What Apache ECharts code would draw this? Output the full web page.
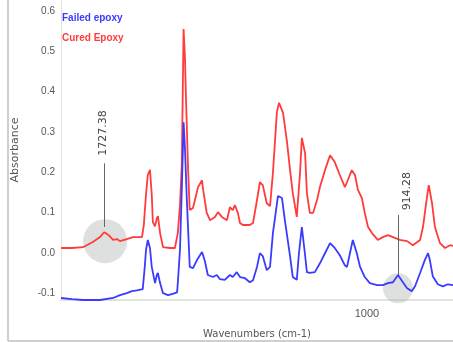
<!DOCTYPE html>
<html>
<head>
<meta charset="utf-8">
<style>
  html, body { margin: 0; padding: 0; background: #fff; }
  #chart { width: 453px; height: 342px; }
</style>
<script src="https://cdn.jsdelivr.net/npm/echarts@6/dist/echarts.min.js"></script>
</head>
<body>
<div id="chart"></div>
<script>
// FTIR spectra, wavenumbers in cm-1
const curedWn = [1846, 1816, 1785, 1758, 1738, 1727, 1719, 1711, 1702, 1691, 1683, 1664, 1647, 1622, 1617,
  1611, 1606, 1600, 1595, 1592, 1586, 1581, 1578, 1572, 1564, 1545, 1531, 1523, 1517, 1512, 1507, 1503,
  1501, 1495, 1490, 1481, 1467, 1456, 1454, 1443, 1434, 1420, 1412, 1401, 1387, 1379, 1371, 1365, 1357,
  1351, 1343, 1324, 1315, 1304, 1296, 1288, 1277, 1268, 1260, 1249, 1243, 1232, 1221, 1213, 1205, 1194,
  1185, 1180, 1171, 1166, 1158, 1149, 1138, 1130, 1116, 1102, 1089, 1075, 1061, 1053, 1042, 1033, 1025,
  1014, 1006, 997, 986, 970, 956, 942, 928, 909, 889, 873, 853, 845, 834, 829, 820, 812, 798, 784, 770, 762];
const curedAbs = [0.012, 0.012, 0.014, 0.027, 0.039, 0.051, 0.047, 0.041, 0.032, 0.034, 0.029, 0.034, 0.039,
  0.039, 0.069, 0.144, 0.193, 0.206, 0.144, 0.076, 0.066, 0.086, 0.091, 0.049, 0.014, 0.012, 0.012, 0.049,
  0.118, 0.218, 0.555, 0.478, 0.404, 0.218, 0.106, 0.111, 0.163, 0.180, 0.163, 0.099, 0.081, 0.089, 0.101,
  0.089, 0.081, 0.113, 0.106, 0.118, 0.099, 0.074, 0.069, 0.069, 0.074, 0.131, 0.175, 0.168, 0.123, 0.116,
  0.198, 0.349, 0.372, 0.347, 0.275, 0.208, 0.148, 0.089, 0.198, 0.285, 0.247, 0.148, 0.099, 0.099, 0.131,
  0.163, 0.205, 0.242, 0.225, 0.193, 0.163, 0.180, 0.205, 0.193, 0.156, 0.136, 0.099, 0.064, 0.049, 0.032,
  0.039, 0.044, 0.039, 0.032, 0.029, 0.019, 0.032, 0.064, 0.138, 0.168, 0.123, 0.064, 0.024, 0.012, 0.019, 0.017];

const failedWn = [1846, 1816, 1785, 1738, 1702, 1683, 1664, 1650, 1636, 1620, 1614, 1611, 1606, 1600, 1595,
  1586, 1581, 1578, 1572, 1564, 1550, 1537, 1525, 1523, 1517, 1512, 1507, 1503, 1498, 1490, 1481, 1470,
  1456, 1448, 1440, 1426, 1415, 1407, 1393, 1379, 1371, 1360, 1351, 1337, 1324, 1315, 1304, 1296, 1288,
  1277, 1268, 1260, 1246, 1235, 1227, 1213, 1205, 1194, 1188, 1180, 1171, 1166, 1158, 1144, 1130, 1116,
  1102, 1089, 1075, 1061, 1055, 1047, 1039, 1028, 1019, 1006, 992, 972, 956, 942, 928, 914, 903, 889, 876,
  867, 853, 840, 831, 826, 818, 804, 790, 776, 762];
const failedAbs = [-0.112, -0.115, -0.117, -0.117, -0.112, -0.105, -0.100, -0.095, -0.093, -0.090, -0.031,
  0.007, 0.032, 0.012, -0.035, -0.075, -0.055, -0.050, -0.075, -0.100, -0.105, -0.102, -0.098, -0.075, 0.007,
  0.156, 0.324, 0.255, 0.131, -0.035, -0.038, -0.018, 0.002, -0.021, -0.055, -0.060, -0.055, -0.065, -0.067,
  -0.055, -0.060, -0.048, -0.060, -0.063, -0.073, -0.068, -0.035, -0.001, -0.008, -0.043, -0.035, 0.049,
  0.141, 0.136, 0.081, -0.006, -0.060, -0.067, -0.001, 0.064, -0.006, -0.048, -0.050, -0.048, -0.026, -0.001,
  0.024, 0.012, -0.006, -0.031, -0.035, -0.001, 0.032, -0.001, -0.035, -0.060, -0.075, -0.080, -0.080, -0.075,
  -0.073, -0.055, -0.070, -0.088, -0.095, -0.083, -0.050, -0.018, -0.001, -0.018, -0.058, -0.078, -0.083,
  -0.078, -0.080];

const yTicks = [-0.1, 0, 0.1, 0.2, 0.3, 0.4, 0.5, 0.6];
const xTicks = [1000];
const peakLabels = ['1727.38', '914.28'];
const peakWn = [1727.38, 914.28];

const zip = (xs, ys) => xs.map((x, i) => [x, ys[i]]);
const textColor = '#555';
const font = "'Liberation Sans', Arial, sans-serif";
const wideFont = "'DejaVu Sans', sans-serif";

const chart = echarts.init(document.getElementById('chart'));

chart.setOption({
  animation: false,
  backgroundColor: '#fff',
  textStyle: { fontFamily: font },
  grid: { left: 61, right: 0, top: 0, bottom: 42, outerBoundsMode: 'none' },
  legend: {
    orient: 'vertical',
    left: 52,
    top: 8,
    icon: 'none',
    itemWidth: 0,
    itemHeight: 0,
    itemGap: 10,
    selectedMode: false,
    textStyle: { fontSize: 10, fontWeight: 'bold' },
    data: [
      { name: 'Failed epoxy', textStyle: { color: '#3b3bff' } },
      { name: 'Cured Epoxy', textStyle: { color: '#ff3b3b' } }
    ]
  },
  xAxis: {
    type: 'value',
    inverse: true,
    min: 762,
    max: 1846,
    name: 'Wavenumbers (cm-1)',
    nameLocation: 'middle',
    nameGap: 29,
    nameTextStyle: { color: textColor, fontSize: 10, fontFamily: wideFont },
    axisLine: { onZero: false, lineStyle: { color: '#dfe5d9', width: 2 } },
    axisTick: { show: false },
    splitLine: { show: false },
    axisLabel: {
      customValues: xTicks,
      formatter: v => String(v),
      color: textColor,
      fontSize: 11,
      margin: 8
    }
  },
  yAxis: {
    type: 'value',
    min: -0.117,
    max: 0.627,
    name: 'Absorbance',
    nameLocation: 'middle',
    nameGap: 40,
    nameTextStyle: { color: textColor, fontSize: 11, fontFamily: wideFont },
    axisLine: { show: true, onZero: false, lineStyle: { color: '#dde6d6', width: 1 } },
    axisTick: { show: false },
    splitLine: { show: false },
    axisLabel: {
      customValues: yTicks,
      formatter: v => v.toFixed(1),
      color: textColor,
      fontSize: 10,
      margin: 6
    }
  },
  series: [
    {
      name: 'peaks',
      type: 'scatter',
      z: 1,
      silent: true,
      symbol: 'circle',
      symbolSize: v => v[2],
      itemStyle: { color: 'rgba(160,168,166,0.45)' },
      data: [[1724, 0.029, 44], [914, -0.088, 30]],
      markLine: {
        silent: true,
        symbol: 'none',
        label: { show: false },
        lineStyle: { color: '#666', width: 1, type: 'solid' },
        data: [
          [{ coord: [peakWn[0], 0.064] }, { coord: [peakWn[0], 0.222] }],
          [{ coord: [peakWn[1], -0.055] }, { coord: [peakWn[1], 0.094] }]
        ]
      },
      markPoint: {
        silent: true,
        symbolSize: 0,
        label: {
          show: true,
          position: 'inside',
          rotate: 90,
          color: '#444',
          fontSize: 11,
          fontFamily: wideFont
        },
        data: [
          { coord: [1730, 0.297], value: peakLabels[0], label: { formatter: peakLabels[0] } },
          { coord: [889, 0.153], value: peakLabels[1], label: { formatter: peakLabels[1] } }
        ]
      }
    },
    {
      name: 'Cured Epoxy',
      type: 'line',
      z: 3,
      symbol: 'none',
      lineStyle: { color: '#ff3b3b', width: 1.8 },
      itemStyle: { color: '#ff3b3b' },
      data: zip(curedWn, curedAbs)
    },
    {
      name: 'Failed epoxy',
      type: 'line',
      z: 3,
      symbol: 'none',
      lineStyle: { color: '#3b3bff', width: 1.8 },
      itemStyle: { color: '#3b3bff' },
      data: zip(failedWn, failedAbs)
    }
  ],
  graphic: [
    { type: 'line', shape: { x1: 8, y1: 0, x2: 8, y2: 341 }, style: { stroke: '#cfcfcf', lineWidth: 2 } },
    { type: 'line', shape: { x1: 8, y1: 341, x2: 453, y2: 341 }, style: { stroke: '#cfcfcf', lineWidth: 2 } }
  ]
});
</script>
</body>
</html>
